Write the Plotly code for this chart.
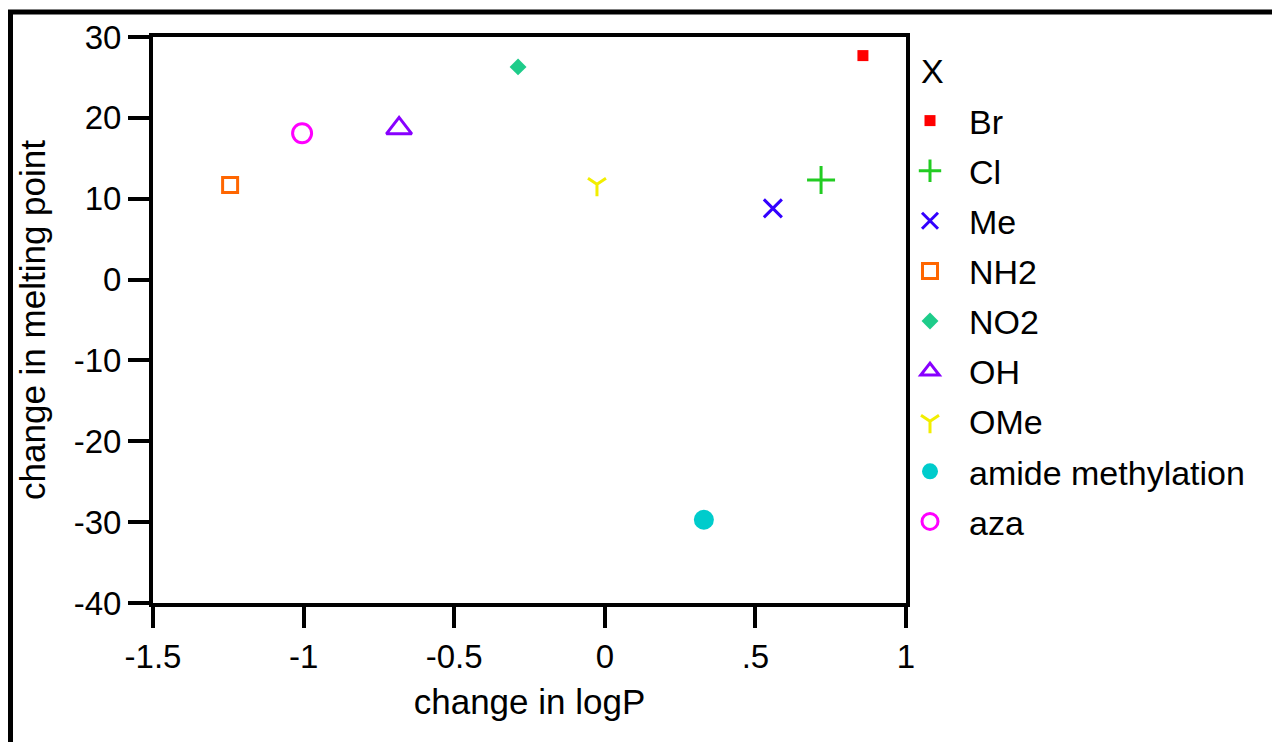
import plotly.graph_objects as go

names = ["Br", "Cl", "Me", "NH2", "NO2", "OH", "OMe", "amide methylation", "aza"]
dlogp = [0.857, 0.718, 0.558, -1.244, -0.288, -0.683, -0.026, 0.329, -1.005]
dmp = [27.7, 12.3, 8.8, 11.7, 26.3, 18.7, 11.8, -29.7, 18.1]
colors = ["#FF0000", "#22CC22", "#3300FF", "#FF6600", "#1ECC8A", "#8800FF", "#F2EE00", "#00CCCC", "#FF00FF"]
symbols = ["square", "cross-thin-open", "x-thin-open", "square-open", "diamond", "triangle-up-open",
           "y-down-open", "circle", "circle-open"]
sizes = [11, 20, 18, 15, 13, 22, 15, 20, 19]
lws = [0, 3, 3, 3, 0, 3, 3, 0, 3]

xticks = [-1.5, -1, -0.5, 0, 0.5, 1]
xticklabels = ["-1.5", "-1", "-0.5", "0", ".5", "1"]
yticks = [30, 20, 10, 0, -10, -20, -30, -40]
yticklabels = ["30", "20", "10", "0", "-10", "-20", "-30", "-40"]
legend_title = "X"

FONT = "Liberation Sans, Arial, sans-serif"

fig = go.Figure()
for i, n in enumerate(names):
    fig.add_trace(go.Scatter(
        x=[dlogp[i]], y=[dmp[i]], mode="markers", name=n, legendgroup=n,
        marker=dict(symbol=symbols[i], size=sizes[i], color=colors[i],
                    line=dict(color=colors[i], width=lws[i])),
    ))

# plot area in pixels: x 153..906, y 37..603
L, R, T, B = 153, 906, 37, 603
W, H = 1272, 742
def px(x):
    return (x - L) / (R - L)
def py(y):
    return (B - y) / (B - T)

fig.add_shape(type="rect", xref="paper", yref="paper",
              x0=px(10.5), x1=px(1400), y0=py(900), y1=py(12),
              line=dict(color="black", width=5), fillcolor="rgba(0,0,0,0)", layer="above")

fig.add_annotation(text=legend_title, xref="paper", yref="paper", x=px(919), y=py(71),
                   xanchor="left", yanchor="middle", showarrow=False,
                   font=dict(family=FONT, size=34, color="black"))

axis_common = dict(showline=True, linecolor="black", linewidth=4, mirror=True,
                   ticks="outside", ticklen=21, tickwidth=4, tickcolor="black",
                   showgrid=False, zeroline=False,
                   tickfont=dict(family=FONT, size=33, color="black"))

fig.update_layout(
    width=W, height=H,
    margin=dict(l=L, r=W - R, t=T, b=H - B),
    paper_bgcolor="white", plot_bgcolor="white",
    font=dict(family=FONT, size=34, color="black"),
    xaxis=dict(range=[-1.5, 1], tickvals=xticks, ticktext=xticklabels,
               title=dict(text="change in logP", font=dict(family=FONT, size=35), standoff=17),
               **axis_common),
    yaxis=dict(range=[-40, 30], tickvals=yticks, ticktext=yticklabels,
               title=dict(text="change in melting point", font=dict(family=FONT, size=35), standoff=18),
               **axis_common),
    showlegend=True,
    legend=dict(x=px(891), y=py(92), xanchor="left", yanchor="top",
                font=dict(family=FONT, size=34, color="black"),
                tracegroupgap=2.9, itemsizing="trace", itemwidth=68,
                bgcolor="rgba(0,0,0,0)"),
)

fig.write_html("out.html")
